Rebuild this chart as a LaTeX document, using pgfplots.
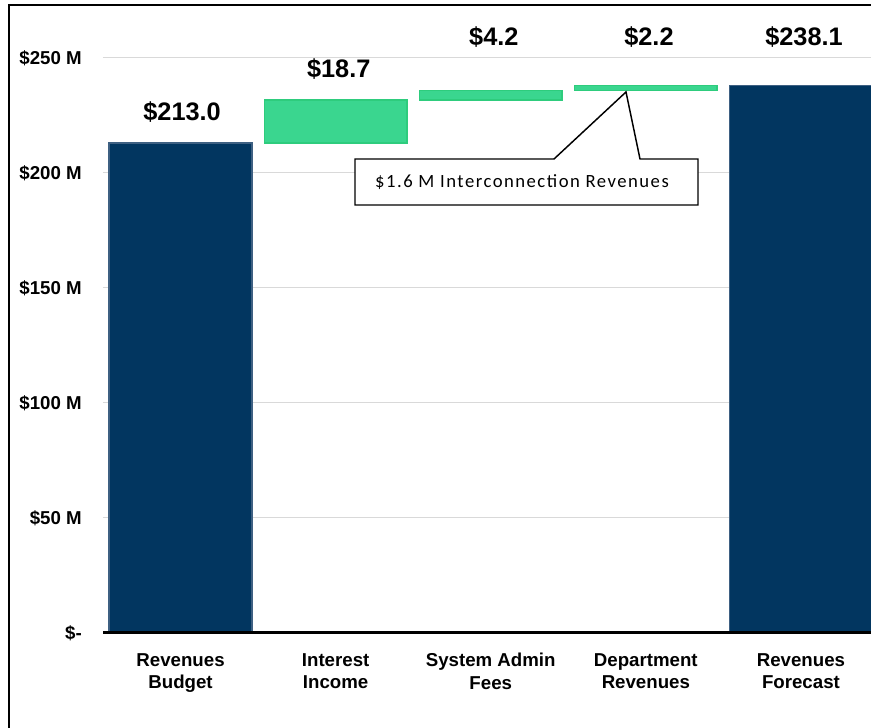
\documentclass[border=0pt]{standalone}
\usepackage{pgfplots}
\pgfplotsset{compat=1.18}
\usepackage{fontspec}
\setmainfont{Liberation Sans}
\newfontfamily\callfont[LetterSpace=8]{Carlito}
\definecolor{navy}{RGB}{2,54,96}
\definecolor{navyedge}{RGB}{62,96,130}
\definecolor{grn}{RGB}{58,214,143}
\definecolor{grnedge}{RGB}{46,204,125}
\definecolor{gridgray}{RGB}{217,217,217}
\begin{document}
\begin{tikzpicture}
\useasboundingbox (0,0) rectangle (653.25pt,546pt);
\clip (0,0) rectangle (653.25pt,546pt);
% frame
\draw[line width=1.5pt, black] (6.75pt,-10pt) -- (6.75pt,542.25pt) -- (670pt,542.25pt);
\begin{axis}[
  at={(77.25pt,71.25pt)}, anchor=south west,
  scale only axis, width=581.625pt, height=431.25pt,
  xmin=-0.5, xmax=4.5, ymin=0, ymax=250,
  enlargelimits=false,
  axis line style={draw=none},
  major tick length=0pt,
  ymajorgrids, major grid style={gridgray, line width=0.75pt},
  ytick={0,50,100,150,200,250},
  yticklabels={{\$-\hspace{3pt}},{\$50 M},{\$100 M},{\$150 M},{\$200 M},{\$250 M}},
  yticklabel style={anchor=east, inner sep=0pt, xshift=-15.75pt, font=\fontsize{14}{16.75}\selectfont\bfseries},
  xtick={0,1,2,3,4},
  xticklabels={{Revenues\\Budget},{Interest\\Income},{System Admin\\Fees},{Department\\Revenues},{Revenues\\Forecast}},
  xticklabel style={anchor=north, align=center, inner sep=0pt, yshift=-15pt, font=\fontsize{14}{16.75}\selectfont\bfseries},
  ybar, bar width=0.92, bar shift=0pt,
]
\addplot[fill=navy, draw=navyedge, line width=1.1pt] coordinates {(0,213.0) (4,238.1)};
\end{axis}
\begin{axis}[
  at={(77.25pt,71.25pt)}, anchor=south west,
  scale only axis, width=581.625pt, height=431.25pt,
  xmin=-0.5, xmax=4.5, ymin=0, ymax=250,
  enlargelimits=false, hide axis, clip=false,
  ybar stacked, bar width=0.92,
]
\addplot[draw=none, fill=none] coordinates {(1,213.0) (2,231.7) (3,235.9)};
\addplot[fill=grn, draw=grnedge, line width=1.1pt] coordinates {(1,18.7) (2,4.2) (3,2.2)};
\draw[black, line width=2.25pt] (rel axis cs:0,0) -- (rel axis cs:1,0);
\node[font=\fontsize{19}{22}\selectfont\bfseries] at (axis cs:0.01,226.5) {\$213.0};
\node[font=\fontsize{19}{22}\selectfont\bfseries] at (axis cs:1.02,245.2) {\$18.7};
\node[font=\fontsize{19}{22}\selectfont\bfseries] at (axis cs:2.02,259.1) {\$4.2};
\node[font=\fontsize{19}{22}\selectfont\bfseries] at (axis cs:3.02,259.1) {\$2.2};
\node[font=\fontsize{19}{22}\selectfont\bfseries] at (axis cs:4.02,259.1) {\$238.1};
\end{axis}
% callout
\begin{scope}[x=0.75pt, y=0.75pt]
\draw[fill=white, draw=black, line width=1.1pt, line join=miter]
  (355,523) -- (355,569) -- (554,569) -- (626,636) -- (640,569) -- (698,569) -- (698,523) -- cycle;
\node[font=\callfont\fontsize{14}{16}\selectfont, inner sep=0pt] at (522,546) {\$1.6 M Interconnection Revenues};
\end{scope}
\end{tikzpicture}
\end{document}
